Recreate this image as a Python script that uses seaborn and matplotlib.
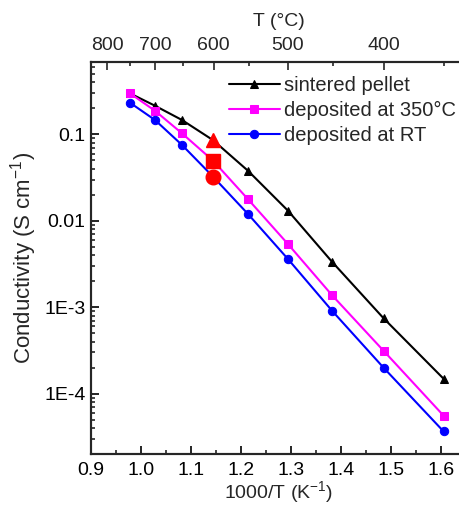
import numpy as np
import pandas as pd
import matplotlib
matplotlib.use("Agg")
import matplotlib.pyplot as plt
import matplotlib.ticker as mticker
import seaborn as sns

# =========================
# DATA
# =========================

inv_t = [0.978, 1.028, 1.082, 1.144, 1.214, 1.294, 1.382, 1.485, 1.605]

sintered = [0.299, 0.215, 0.147, 0.086, 0.038, 0.0131, 0.00336, 0.000747, 0.000149]
dep_350 = [0.299, 0.188, 0.103, 0.0498, 0.0178, 0.00538, 0.00138, 0.000314, 0.0000557]
dep_rt = [0.233, 0.147, 0.0756, 0.0325, 0.0120, 0.00361, 0.000912, 0.000200, 0.0000366]

# red highlighted points at 600 C
red_x = [1.144, 1.144, 1.144]
red_y = [0.086, 0.0498, 0.0325]
red_markers = ['^', 's', 'o']

series_names = ["sintered pellet", "deposited at 350\u00b0C", "deposited at RT"]
series_colors = ["black", "#ff00ff", "#0000ff"]
series_markers = ['^', 's', 'o']

y_ticks = [1e-4, 1e-3, 1e-2, 1e-1]
y_tick_labels = ["1E-4", "1E-3", "0.01", "0.1"]

x_ticks = [0.9, 1.0, 1.1, 1.2, 1.3, 1.4, 1.5, 1.6]

top_major_T = [800, 700, 600, 500, 400]
top_minor_T = [750, 650, 550, 450, 350]

# =========================
# STYLE
# =========================

sns.set_style("ticks")
plt.rcParams['font.family'] = ['Liberation Sans', 'DejaVu Sans']
plt.rcParams['mathtext.fontset'] = 'custom'
plt.rcParams['mathtext.rm'] = 'Liberation Sans'

FS = 14

fig = plt.figure(figsize=(4.59, 5.07), dpi=100)
ax = fig.add_axes([91 / 459, 53 / 507, (1.65 - 0.9) * 500 / 459, 392 / 507])

df = pd.DataFrame({
    "x": inv_t * 3,
    "y": sintered + dep_350 + dep_rt,
    "series": [series_names[0]] * 9 + [series_names[1]] * 9 + [series_names[2]] * 9,
})

for name, col, mk in zip(series_names, series_colors, series_markers):
    sub = df[df["series"] == name]
    sns.lineplot(data=sub, x="x", y="y", ax=ax, color=col, marker=mk,
                 markersize=5.5 if mk != 'o' else 6, markeredgecolor=col,
                 linewidth=1.5, label=name)

for xx, yy, mk in zip(red_x, red_y, red_markers):
    ax.plot(xx, yy, marker=mk, color="red", markersize=10.5 if mk != 's' else 9.5,
            linestyle="none", zorder=5)

ax.set_yscale("log")
ax.set_xlim(0.9, 1.65)
ax.set_ylim(2e-5, 0.69)

ax.set_yticks(y_ticks)
ax.set_yticklabels(y_tick_labels)
ax.yaxis.set_minor_locator(mticker.LogLocator(base=10, subs=np.arange(2, 10), numticks=20))
ax.yaxis.set_minor_formatter(mticker.NullFormatter())

ax.set_xticks(x_ticks)
ax.set_xticklabels([f"{v:.1f}" for v in x_ticks])
ax.xaxis.set_minor_locator(mticker.MultipleLocator(0.05))

ax.tick_params(axis='both', which='major', direction='in', length=6, width=1.2,
               labelsize=FS, colors='black')
ax.tick_params(axis='both', which='minor', direction='in', length=3, width=1.2)
ax.tick_params(axis='x', top=False, pad=6)
ax.tick_params(axis='y', right=False, which='both', pad=4)

ax.set_xlabel("1000/T (K$^{-1}$)", fontsize=FS, labelpad=0)
ax.set_ylabel("Conductivity (S cm$^{-1}$)", fontsize=16, labelpad=4)

for sp in ax.spines.values():
    sp.set_linewidth(1.5)
    sp.set_color('black')
ax.spines['right'].set_visible(False)

# top temperature axis
ax2 = ax.twiny()
ax2.set_xlim(ax.get_xlim())
ax2.set_xticks([1000 / (t + 273) for t in top_major_T])
ax2.set_xticklabels([str(t) for t in top_major_T])
ax2.set_xticks([1000 / (t + 273) for t in top_minor_T], minor=True)
ax2.tick_params(axis='x', which='major', direction='in', length=6, width=1.2,
                labelsize=FS, pad=6)
ax2.tick_params(axis='x', which='minor', direction='in', length=3, width=1.2)
ax2.set_xlabel("T (\u00b0C)", fontsize=FS, labelpad=8)
for sp in ax2.spines.values():
    sp.set_linewidth(1.5)
ax2.spines['right'].set_visible(False)

leg = ax.legend(loc='upper left', bbox_to_anchor=(0.347, 0.985), frameon=False,
                fontsize=14.5, handlelength=2.5, handletextpad=0.2,
                labelspacing=0.3, borderaxespad=0)

fig.savefig("out.png", dpi=100)
print("saved out.png")
